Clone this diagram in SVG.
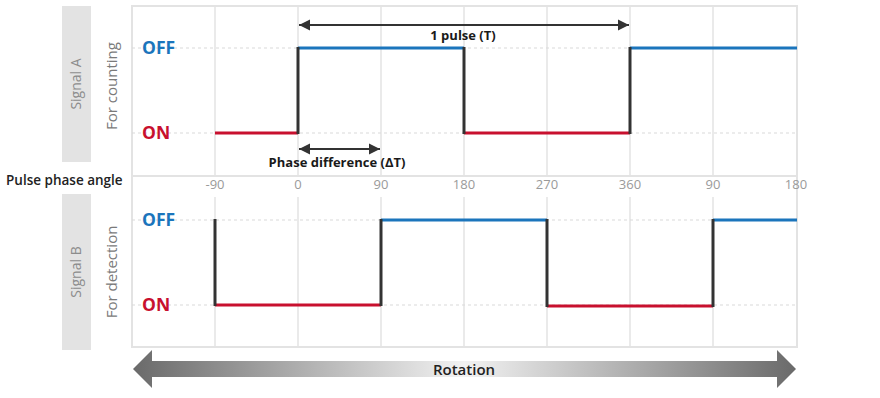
<svg xmlns="http://www.w3.org/2000/svg" width="880" height="398" viewBox="0 0 880 398">
<defs>
<style>
.frame{fill:none;stroke:#e3e3e3;stroke-width:2}
.grid{stroke:#e3e3e3;stroke-width:1.5}
.dash{stroke:#d9d9d9;stroke-width:1.2;stroke-dasharray:3 3}
.tag{fill:#e3e3e3}
.tagtxt{font-family:"Open Sans","Liberation Sans",sans-serif;font-size:14px;fill:#8c8c8c;text-anchor:middle}
.sub{font-family:"Open Sans","Liberation Sans",sans-serif;font-size:15px;fill:#7a7a7a;text-anchor:middle}
.off{font-family:"Open Sans","Liberation Sans",sans-serif;font-size:17.5px;font-weight:bold;fill:#1b75bc}
.on{font-family:"Open Sans","Liberation Sans",sans-serif;font-size:17.5px;font-weight:bold;fill:#c8102e}
.ax{font-family:"Open Sans","Liberation Sans",sans-serif;font-size:13px;fill:#9a9a9a;text-anchor:middle}
.lbl{font-family:"Open Sans","Liberation Sans",sans-serif;font-size:13px;font-weight:bold;fill:#1a1a1a;text-anchor:middle}
.hi{fill:none;stroke:#1b75bc;stroke-width:3}
.lo{fill:none;stroke:#c8102e;stroke-width:3}
.edge{fill:none;stroke:#333;stroke-width:3}
.dim{stroke:#333;stroke-width:2;marker-start:url(#ah);marker-end:url(#ah)}
</style>
<marker id="ah" viewBox="0 0 10 10" refX="10" refY="5" markerWidth="5.5" markerHeight="6" orient="auto-start-reverse" markerUnits="strokeWidth">
<path d="M0,0 L10,5 L0,10 Z" fill="#333"/>
</marker>
<linearGradient id="rot" x1="133" y1="0" x2="796" y2="0" gradientUnits="userSpaceOnUse">
<stop offset="0" stop-color="#6a6a6a"/>
<stop offset="0.5" stop-color="#f2f2f2"/>
<stop offset="1" stop-color="#6a6a6a"/>
</linearGradient>
</defs>
<rect width="880" height="398" fill="#fff"/>

<g id="chart-frame">
<rect class="frame" x="132" y="6" width="665" height="170"/>
<rect class="frame" x="132" y="176" width="665" height="171"/>
<g class="grid">
<line x1="215" y1="7" x2="215" y2="175"/><line x1="298" y1="7" x2="298" y2="175"/><line x1="381" y1="7" x2="381" y2="175"/><line x1="464" y1="7" x2="464" y2="175"/><line x1="547" y1="7" x2="547" y2="175"/><line x1="630" y1="7" x2="630" y2="175"/><line x1="713" y1="7" x2="713" y2="175"/>
<line x1="215" y1="197" x2="215" y2="346"/><line x1="298" y1="197" x2="298" y2="346"/><line x1="381" y1="197" x2="381" y2="346"/><line x1="464" y1="197" x2="464" y2="346"/><line x1="547" y1="197" x2="547" y2="346"/><line x1="630" y1="197" x2="630" y2="346"/><line x1="713" y1="197" x2="713" y2="346"/>
</g>
<g class="dash">
<line x1="132" y1="48" x2="797" y2="48"/><line x1="132" y1="133" x2="797" y2="133"/>
<line x1="132" y1="220" x2="797" y2="220"/><line x1="132" y1="305" x2="797" y2="305"/>
</g>
</g>

<g id="axis-labels">
<text x="6" y="185" font-family="'Open Sans','Liberation Sans',sans-serif" font-size="13.5" font-weight="600" fill="#222">Pulse phase angle</text>
<text class="ax" x="215" y="189">-90</text><text class="ax" x="298" y="189">0</text><text class="ax" x="381" y="189">90</text><text class="ax" x="464" y="189">180</text><text class="ax" x="547" y="189">270</text><text class="ax" x="630" y="189">360</text><text class="ax" x="713" y="189">90</text><text class="ax" x="796" y="189">180</text>
</g>

<g id="signal-a-label">
<rect class="tag" x="62" y="6" width="29" height="156"/>
<text class="tagtxt" transform="translate(81,84) rotate(-90)">Signal A</text>
<text class="sub" transform="translate(117,86) rotate(-90)">For counting</text>
<text class="off" x="142" y="54">OFF</text>
<text class="on" x="142" y="139">ON</text>
</g>

<g id="signal-b-label">
<rect class="tag" x="62" y="194" width="29" height="156"/>
<text class="tagtxt" transform="translate(81,272) rotate(-90)">Signal B</text>
<text class="sub" transform="translate(117,272) rotate(-90)">For detection</text>
<text class="off" x="142" y="226">OFF</text>
<text class="on" x="142" y="311">ON</text>
</g>

<g id="signal-a-wave">
<line class="lo" x1="215" y1="133" x2="298" y2="133"/>
<line class="hi" x1="298" y1="48" x2="464" y2="48"/>
<line class="lo" x1="464" y1="133" x2="630" y2="133"/>
<line class="hi" x1="630" y1="48" x2="797" y2="48"/>
<line class="edge" x1="298" y1="134" x2="298" y2="47"/>
<line class="edge" x1="464" y1="47" x2="464" y2="134"/>
<line class="edge" x1="630" y1="134" x2="630" y2="47"/>
</g>

<g id="signal-b-wave">
<line class="lo" x1="215" y1="305" x2="381" y2="305"/>
<line class="hi" x1="381" y1="220" x2="547" y2="220"/>
<line class="lo" x1="547" y1="306" x2="713" y2="306"/>
<line class="hi" x1="713" y1="220" x2="797" y2="220"/>
<line class="edge" x1="215" y1="219" x2="215" y2="306"/>
<line class="edge" x1="381" y1="306" x2="381" y2="219"/>
<line class="edge" x1="547" y1="219" x2="547" y2="307"/>
<line class="edge" x1="713" y1="307" x2="713" y2="219"/>
</g>

<g id="connectors">
<line class="dim" x1="299" y1="25" x2="629" y2="25"/>
<line class="dim" x1="299" y1="149" x2="380" y2="149"/>
</g>
<g id="dimension-labels">
<text class="lbl" x="463" y="40">1 pulse (T)</text>
<text class="lbl" x="337" y="167">Phase difference (ΔT)</text>
</g>

<g id="rotation">
<path d="M133,369 L152,350 L152,361 L777,361 L777,350 L796,369 L777,388 L777,377 L152,377 L152,388 Z" fill="url(#rot)"/>
<text x="464" y="375" font-family="'Open Sans','Liberation Sans',sans-serif" font-size="15" font-weight="600" fill="#222" text-anchor="middle">Rotation</text>
</g>
</svg>
